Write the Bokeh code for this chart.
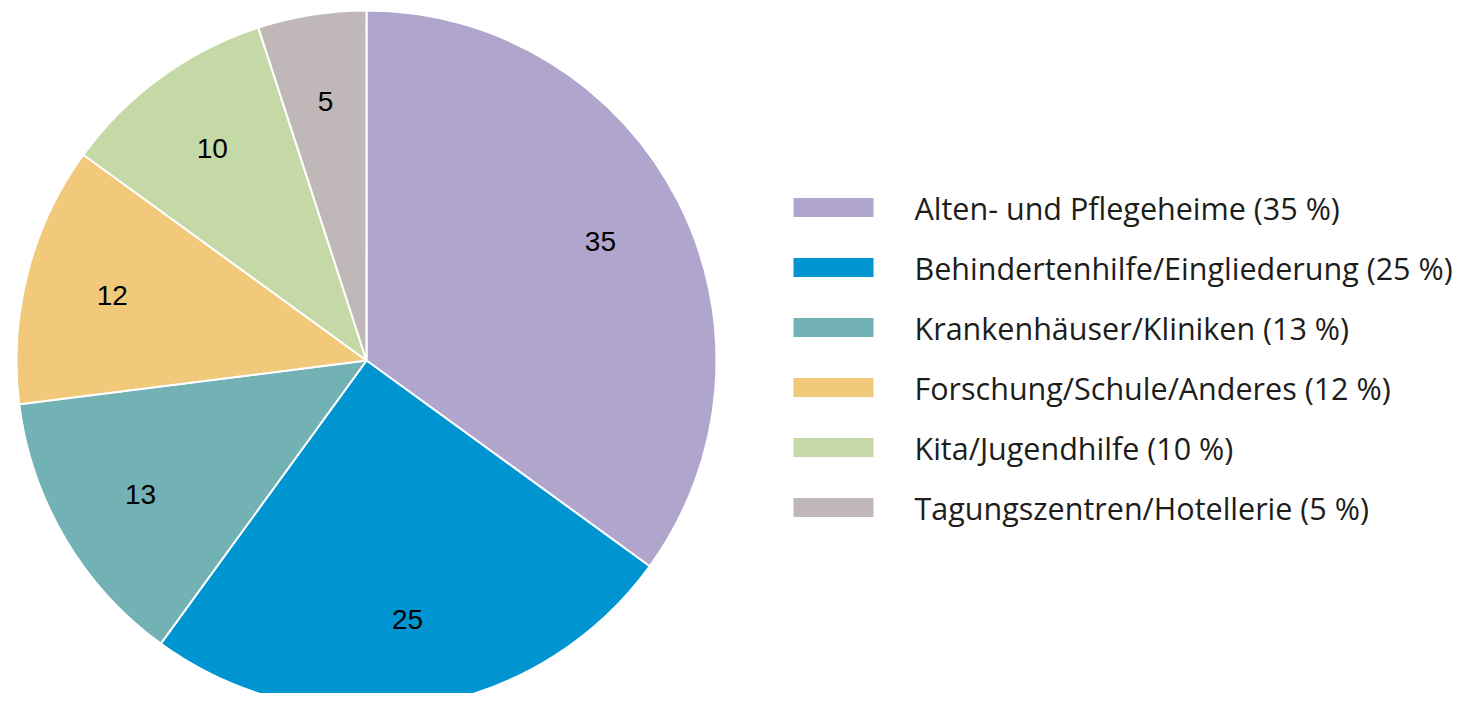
import math
from bokeh.plotting import figure
from bokeh.models import Range1d, ColumnDataSource
from bokeh.core.properties import value
from bokeh.embed import file_html
from bokeh.resources import INLINE

categories = ["Alten- und Pflegeheime", "Behindertenhilfe/Eingliederung",
              "Krankenhäuser/Kliniken", "Forschung/Schule/Anderes",
              "Kita/Jugendhilfe", "Tagungszentren/Hotellerie"]
values = [35, 25, 13, 12, 10, 5]
colors = ["#b0a5cc", "#0094d0", "#72b2b4", "#f2c97a", "#c5d9a6", "#c0b8b8"]

W, H = 1463, 693
p = figure(width=W, height=H, output_backend="svg", toolbar_location=None,
           x_range=Range1d(0, W), y_range=Range1d(0, H), min_border=0)
p.axis.visible = False
p.grid.visible = False
p.outline_line_color = None
p.background_fill_color = "white"

cx, cy, R = 366, 333, 350
total = sum(values)
starts, ends, lx, ly = [], [], [], []
cum = 0
for v in values:
    a0 = math.pi / 2 - 2 * math.pi * cum / total
    a1 = math.pi / 2 - 2 * math.pi * (cum + v) / total
    starts.append(a0)
    ends.append(a1)
    mid = (a0 + a1) / 2
    lx.append(cx + 0.75 * R * math.cos(mid))
    ly.append(cy + 0.75 * R * math.sin(mid))
    cum += v

src = ColumnDataSource(dict(start=starts, end=ends, color=colors, lx=lx, ly=ly,
                            lab=[str(v) for v in values]))
p.wedge(x=cx, y=cy, radius=R, start_angle="start", end_angle="end",
        direction="clock", fill_color="color", line_color="white", line_width=2,
        source=src)
p.text(x="lx", y="ly", text="lab", source=src, text_align="center",
       text_baseline="middle", text_font=value("Liberation Sans"),
       text_font_size="28px", text_color="#000000")

# legend
leg_y = [486 - i * 60 for i in range(len(categories))]
leg_txt = [f"{c} ({v} %)" for c, v in zip(categories, values)]
lsrc = ColumnDataSource(dict(y=leg_y, color=colors, t=leg_txt))
p.rect(x=833, y="y", width=80, height=19, fill_color="color", line_color=None, source=lsrc)
p.text(x=914, y="y", text="t", source=lsrc, text_align="left", text_baseline="middle",
       text_font=value("Open Sans"), text_font_size="30.5px", text_color="#1d1d1b")

open("out.html", "w").write(file_html(p, INLINE))
